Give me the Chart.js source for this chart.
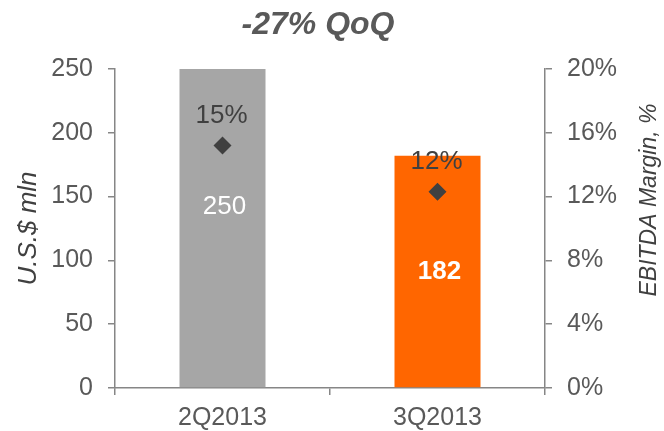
<!DOCTYPE html>
<html>
<head>
<meta charset="utf-8">
<script src="https://cdn.jsdelivr.net/npm/chart.js@4.4.1/dist/chart.umd.min.js"></script>
<style>
  html, body { margin: 0; padding: 0; background: #fff; }
  #wrap { width: 664px; height: 431px; position: relative; }
</style>
</head>
<body>
<div id="wrap"><canvas id="ebitdaChart"></canvas></div>
<script>
const quarters = ["2Q2013", "3Q2013"];
const ebitda = [250, 182];          // U.S.$ mln
const margin = [15.2, 12.3];        // EBITDA margin, %
const leftTicks = [0, 50, 100, 150, 200, 250];
const rightTicks = [0, 4, 8, 12, 16, 20];
const chartTitle = "-27% QoQ";

const axisColor = "#868686";
const tickColor = "#595959";
const FONT = "'Liberation Sans', Arial, sans-serif";

// title, value labels on bars, margin labels above diamonds, right axis title
const labelPlugin = {
    id: 'labels',
    afterDatasetsDraw(chart) {
        const ctx = chart.ctx;
        ctx.save();
        ctx.textAlign = 'center';
        ctx.textBaseline = 'middle';

        // title sits over the plot, not the canvas centre
        ctx.font = 'italic bold 32px ' + FONT;
        ctx.fillStyle = '#595959';
        ctx.fillText(chartTitle, 318, 25);

        const bars = chart.getDatasetMeta(0).data;
        bars.forEach((bar, i) => {
            const bold = i === 1;
            const dy = i === 0 ? -21 : 0;
            ctx.font = (bold ? 'bold ' : '') + '26px ' + FONT;
            ctx.fillStyle = '#ffffff';
            ctx.fillText(String(ebitda[i]), bar.x + 2, (bar.y + bar.base) / 2 + dy);
        });

        const pts = chart.getDatasetMeta(1).data;
        pts.forEach((p, i) => {
            ctx.font = '26px ' + FONT;
            ctx.fillStyle = '#404040';
            ctx.fillText(Math.round(margin[i]) + '%', p.x - 1, p.y - 30);
        });

        // right axis title reads bottom-to-top
        ctx.translate(650, 200);
        ctx.rotate(-Math.PI / 2);
        ctx.font = 'italic 23px ' + FONT;
        ctx.fillStyle = '#404040';
        ctx.fillText('EBITDA Margin, %', 0, 0);
        ctx.restore();
    }
};

const ctx = document.getElementById('ebitdaChart').getContext('2d');
const ebitdaChart = new Chart(ctx, {
    type: 'bar',
    data: {
        labels: quarters,
        datasets: [{
            type: 'bar',
            data: ebitda,
            backgroundColor: ['#A6A6A6', '#FF6600'],
            barPercentage: 0.4,
            categoryPercentage: 1,
            yAxisID: 'y',
            order: 2
        }, {
            type: 'line',
            data: margin,
            showLine: false,
            pointStyle: 'rectRot',
            pointRadius: 9,
            pointBackgroundColor: '#404040',
            pointBorderColor: '#404040',
            pointBorderWidth: 0,
            yAxisID: 'y1',
            order: 1
        }]
    },
    options: {
        responsive: true,
        maintainAspectRatio: false,
        animation: false,
        layout: { padding: { top: 69 } },
        plugins: {
            legend: { display: false },
            tooltip: { enabled: false },
            title: { display: false }
        },
        scales: {
            x: {
                grid: { display: true, drawOnChartArea: false, drawTicks: true, tickLength: 7, color: axisColor, lineWidth: 1.5 },
                border: { color: axisColor, width: 1.5 },
                ticks: { color: tickColor, font: { family: FONT, size: 25 }, padding: 8 },
                afterFit(scale) { scale.height = 43; }
            },
            y: {
                position: 'left',
                min: 0,
                max: 250,
                afterBuildTicks(scale) { scale.ticks = leftTicks.map(v => ({ value: v })); },
                grid: { display: true, drawOnChartArea: false, drawTicks: true, tickLength: 7, color: axisColor, lineWidth: 1.5 },
                border: { color: axisColor, width: 1.5 },
                ticks: { color: tickColor, font: { family: FONT, size: 25 }, padding: 15 },
                title: {
                    display: true,
                    text: 'U.S.$ mln',
                    color: '#404040',
                    font: { family: FONT, size: 26, style: 'italic' },
                    padding: { top: 13, bottom: 0 }
                },
                afterFit(scale) { scale.width = 115; }
            },
            y1: {
                position: 'right',
                min: 0,
                max: 20,
                afterBuildTicks(scale) { scale.ticks = rightTicks.map(v => ({ value: v })); },
                grid: { display: true, drawOnChartArea: false, drawTicks: true, tickLength: 7, color: axisColor, lineWidth: 1.5 },
                border: { color: axisColor, width: 1.5 },
                ticks: { color: tickColor, font: { family: FONT, size: 25 }, padding: 15, callback: v => v + '%' },
                afterFit(scale) { scale.width = 119; }
            }
        }
    },
    plugins: [labelPlugin]
});
</script>
</body>
</html>
